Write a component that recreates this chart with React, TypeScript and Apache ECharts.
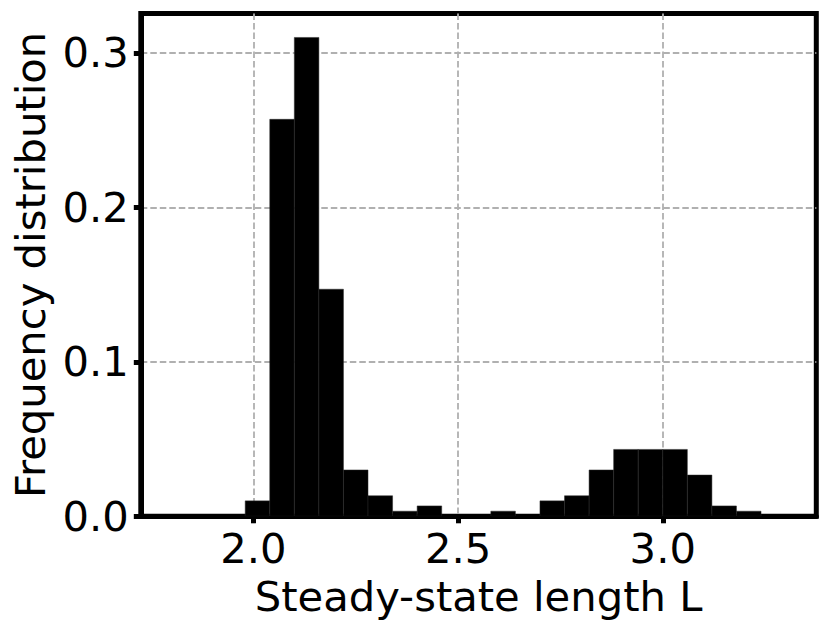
import React, { useEffect, useRef } from "react";
import * as echarts from "echarts";

// Histogram bins (left and right edges) and the frequency in each bin
const binLeft = [1.80, 1.86, 1.92, 1.98, 2.04, 2.10, 2.16, 2.22, 2.28, 2.34, 2.40, 2.46, 2.52,
  2.58, 2.64, 2.70, 2.76, 2.82, 2.88, 2.94, 3.00, 3.06, 3.12, 3.18, 3.24];
const binRight = [1.86, 1.92, 1.98, 2.04, 2.10, 2.16, 2.22, 2.28, 2.34, 2.40, 2.46, 2.52, 2.58,
  2.64, 2.70, 2.76, 2.82, 2.88, 2.94, 3.00, 3.06, 3.12, 3.18, 3.24, 3.30];
const frequency = [0, 0, 0, 0.010, 0.257, 0.310, 0.147, 0.030, 0.0133, 0.0033, 0.0067, 0, 0,
  0.0033, 0, 0.010, 0.0133, 0.030, 0.0433, 0.0433, 0.0433, 0.0267, 0.0067, 0.0033, 0];

const xTicks = [2.0, 2.5, 3.0];
const yTicks = [0.0, 0.1, 0.2, 0.3];
const xRange = [1.725, 3.375];
const yRange = [0, 0.3255];

const xName = "Steady-state length L";
const yName = "Frequency distribution";

const FONT = "DejaVu Sans";
const FS = 41.7;

export default function App() {
  const ref = useRef<HTMLDivElement>(null);
  useEffect(() => {
    if (!ref.current) return;
    const chart = echarts.init(ref.current, null, { renderer: "svg" });
    const data = binLeft.map((l, i) => [l, binRight[i], frequency[i]]);
    const grid = { color: "#b0b0b0", width: 1.8, type: [6.5, 3] };
    chart.setOption({
      animation: false,
      grid: {
        left: 140.8,
        right: 13.7,
        top: 13.5,
        bottom: 115.7,
        show: true,
        borderColor: "#000",
        borderWidth: 5,
        backgroundColor: "transparent",
      },
      xAxis: {
        type: "value",
        min: xRange[0],
        max: xRange[1],
        interval: 0.5,
        name: xName,
        nameLocation: "middle",
        nameGap: 59,
        nameTextStyle: { fontFamily: FONT, fontSize: FS, color: "#000" },
        axisLine: { show: true, lineStyle: { color: "#000", width: 5 } },
        axisTick: {
          show: true,
          length: 7,
          customValues: xTicks,
          lineStyle: { color: "#000", width: 5 },
        },
        axisLabel: {
          customValues: xTicks,
          margin: 11,
          fontFamily: FONT,
          fontSize: FS,
          color: "#000",
          formatter: (v: number) => v.toFixed(1),
        },
        splitLine: { show: true, lineStyle: grid },
      },
      yAxis: {
        type: "value",
        min: yRange[0],
        max: yRange[1],
        interval: 0.1,
        name: yName,
        nameLocation: "middle",
        nameGap: 88,
        nameRotate: 90,
        nameTextStyle: { fontFamily: FONT, fontSize: FS, color: "#000" },
        axisLine: { show: true, lineStyle: { color: "#000", width: 5 } },
        axisTick: {
          show: true,
          length: 7,
          customValues: yTicks,
          lineStyle: { color: "#000", width: 5 },
        },
        axisLabel: {
          customValues: yTicks,
          margin: 12,
          fontFamily: FONT,
          fontSize: FS,
          color: "#000",
          formatter: (v: number) => v.toFixed(1),
        },
        splitLine: { show: true, lineStyle: grid },
      },
      series: [
        {
          type: "custom",
          clip: true,
          encode: { x: [0, 1], y: 2 },
          data,
          renderItem: (params: any, api: any) => {
            const x0 = api.value(0);
            const x1 = api.value(1);
            const y = api.value(2);
            if (!y) return null;
            const pTop = api.coord([x0, y]);
            const pBot = api.coord([x1, 0]);
            return {
              type: "rect",
              shape: {
                x: pTop[0],
                y: pTop[1],
                width: pBot[0] - pTop[0],
                height: pBot[1] - pTop[1],
              },
              style: { fill: "#000", stroke: "#2a2a2a", lineWidth: 0.5 },
            };
          },
        },
      ],
    });
    return () => chart.dispose();
  }, []);
  return (
    <div
      ref={ref}
      style={{ position: "absolute", left: 0, top: 0, width: 830, height: 632, background: "#fff" }}
    />
  );
}
